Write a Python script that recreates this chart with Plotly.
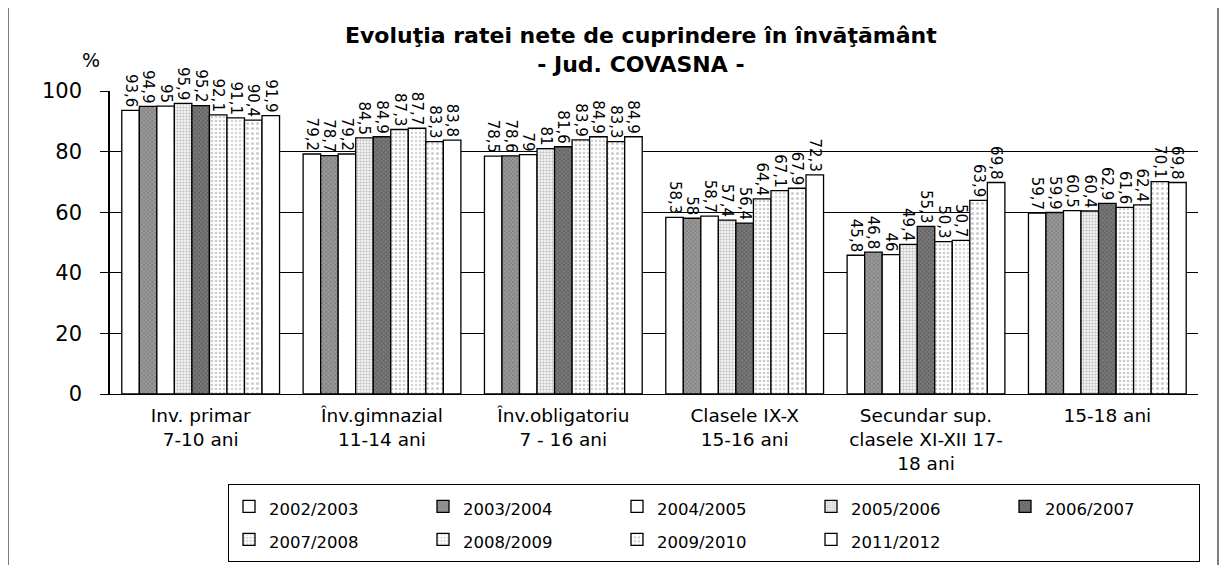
import plotly.graph_objects as go

categories = ["Inv. primar<br>7-10 ani", "Înv.gimnazial<br>11-14 ani", "Înv.obligatoriu<br>7 - 16 ani",
              "Clasele IX-X<br>15-16 ani", "Secundar sup.<br>clasele XI-XII 17-<br>18 ani", "15-18 ani"]
series_names = ["2002/2003", "2003/2004", "2004/2005", "2005/2006", "2006/2007",
                "2007/2008", "2008/2009", "2009/2010", "2011/2012"]
v_2002 = [93.6, 79.2, 78.5, 58.3, 45.8, 59.7]
v_2003 = [94.9, 78.7, 78.6, 58.0, 46.8, 59.9]
v_2004 = [95.0, 79.2, 79.0, 58.7, 46.0, 60.5]
v_2005 = [95.9, 84.5, 81.0, 57.4, 49.4, 60.4]
v_2006 = [95.2, 84.9, 81.6, 56.4, 55.3, 62.9]
v_2007 = [92.1, 87.3, 83.9, 64.4, 50.3, 61.6]
v_2008 = [91.1, 87.7, 84.9, 67.1, 50.7, 62.4]
v_2009 = [90.4, 83.3, 83.3, 67.9, 63.9, 70.1]
v_2011 = [91.9, 83.8, 84.9, 72.3, 69.8, 69.8]
all_values = [v_2002, v_2003, v_2004, v_2005, v_2006, v_2007, v_2008, v_2009, v_2011]

styles = [
    dict(color="white", pattern=dict(shape="")),
    dict(color="#9a9a9a", pattern=dict(shape="x", fgcolor="#555555", size=3, solidity=0.4)),
    dict(color="white", pattern=dict(shape="")),
    dict(color="white", pattern=dict(shape=".", fgcolor="#8a8a8a", size=3, solidity=0.5)),
    dict(color="#7a7a7a", pattern=dict(shape="x", fgcolor="#333333", size=3, solidity=0.4)),
    dict(color="white", pattern=dict(shape=".", fgcolor="#999999", size=4, solidity=0.35)),
    dict(color="white", pattern=dict(shape=".", fgcolor="#aaaaaa", size=4, solidity=0.3)),
    dict(color="white", pattern=dict(shape=".", fgcolor="#999999", size=5, solidity=0.3)),
    dict(color="white", pattern=dict(shape="")),
]

def fmt(v):
    s = ("%.1f" % v).replace(".", ",")
    return s[:-2] if s.endswith(",0") else s

FONT = "DejaVu Sans, sans-serif"
fig = go.Figure()
for name, vals, st in zip(series_names, all_values, styles):
    fig.add_trace(go.Bar(
        name='<span style="font-size:16.5px">' + name + '</span>',
        x=categories, y=vals,
        text=[fmt(v) for v in vals], textposition="outside", textangle=90,
        constraintext="none", cliponaxis=False,
        textfont=dict(family=FONT, size=15, color="black"),
        marker=dict(color=st["color"], pattern=st["pattern"],
                    line=dict(color="black", width=1.3)),
    ))

OFF = 8  # page body margin
W, H = 1229 - OFF, 565 - OFF
L, T = 110 - OFF, 91 - OFF
R = W - (1198 - OFF)
B = H - (394 - OFF)
pw, ph = W - L - R, H - T - B

def px(xr):
    return (xr - OFF - L) / pw

def py(yr):
    return (H - B - (yr - OFF)) / ph

fig.update_layout(
    width=W, height=H, barmode="group", bargap=0.13, bargroupgap=0,
    margin=dict(l=L, r=R, t=T, b=B, autoexpand=False),
    paper_bgcolor="white", plot_bgcolor="white",
    font=dict(family=FONT, color="black"),
    showlegend=True,
    legend=dict(orientation="h", x=px(228), y=py(484), xanchor="left", yanchor="top",
                entrywidth=149, entrywidthmode="pixels",
                bordercolor="black", borderwidth=1,
                font=dict(family=FONT, size=23, color="black")),
    xaxis=dict(showline=True, linecolor="black", linewidth=1, ticks="",
               ticklabelstandoff=5,
               tickfont=dict(family=FONT, size=18.5, color="black")),
    yaxis=dict(range=[0, 100], tickvals=[0, 20, 40, 60, 80, 100], showgrid=True,
               gridcolor="black", gridwidth=1, showline=True, linecolor="black",
               linewidth=1.5, ticks="outside", ticklen=8, tickcolor="black",
               ticklabelstandoff=14,
               tickfont=dict(family=FONT, size=21, color="black"), zeroline=False),
    annotations=[
        dict(text="<b>Evoluţia ratei nete de cuprindere în învăţământ<br>- Jud. COVASNA -</b>",
             xref="paper", yref="paper", x=px(641), y=py(50), xanchor="center",
             yanchor="middle", showarrow=False,
             align="center", font=dict(family=FONT, size=22, color="black")),
        dict(text="%", xref="paper", yref="paper", x=px(91), y=py(60),
             xanchor="center", yanchor="middle",
             showarrow=False, font=dict(family=FONT, size=19, color="black")),
    ],
    shapes=[dict(type="rect", xref="paper", yref="paper", x0=px(8), x1=px(1218),
                 y0=py(566), y1=py(5), line=dict(color="black", width=1))],
)

fig.write_html("out.html")
